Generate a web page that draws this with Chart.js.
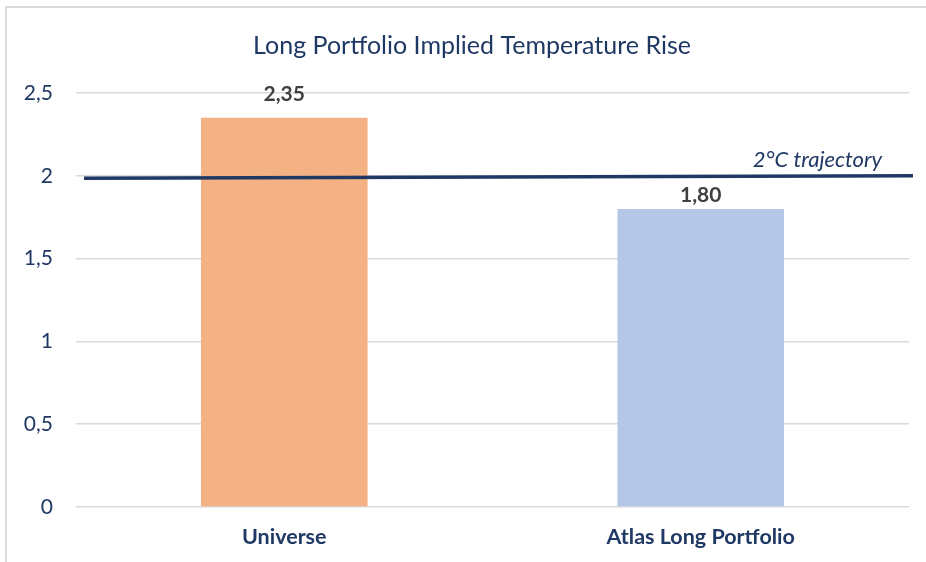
<!DOCTYPE html>
<html>
<head>
<meta charset="utf-8">
<script src="https://cdn.jsdelivr.net/npm/chart.js@4.4.1/dist/chart.umd.min.js"></script>
<style>
  body { margin: 0; background: #fff; }
  #wrap { position: relative; width: 926px; height: 562px; overflow: hidden; }
  #frame { position: absolute; left: 5px; top: 6px; width: 1000px; height: 700px;
           border-top: 2px solid #D9D9D9; border-left: 2px solid #D9D9D9; }
  canvas { position: absolute; left: 0; top: 0; }
</style>
</head>
<body>
<div id="wrap">
  <div id="frame"></div>
  <canvas id="chart" width="926" height="562"></canvas>
</div>
<script>
/** Data **/
const chart_title = "Long Portfolio Implied Temperature Rise";
const categories = ["Universe", "Atlas Long Portfolio"];
const temperature_rise = [2.35, 1.80];
const bar_colors = ["#F4B183", "#B4C7E7"];

// 2°C trajectory line, drawn slightly tilted as in the source
const trajectory_x = [0, 1];
const trajectory_y = [1.985, 2.0];
const trajectory_label = "2°C trajectory";

const y_ticks = [0, 0.5, 1, 1.5, 2, 2.5];

/** Colors / styles **/
const navy = "#1F3864";
const label_grey = "#404040";
const grid_grey = "#D9D9D9";
const font_family = "Lato, 'Open Sans', sans-serif";
const label_offsets = [24, 14]; // value label distance above each bar

function comma(v, digits) {
    return (digits === undefined ? String(v) : v.toFixed(digits)).replace(".", ",");
}

/** Plugins **/
// title is drawn by hand: the source centres it on the whole picture, not on the chart box
const title_plugin = {
    id: "centredTitle",
    beforeDraw(chart) {
        const ctx = chart.ctx;
        ctx.save();
        ctx.font = "25px " + font_family;
        ctx.fillStyle = navy;
        ctx.textAlign = "center";
        ctx.textBaseline = "middle";
        ctx.fillText(chart_title, 472, 46);
        ctx.restore();
    }
};

const value_labels = {
    id: "valueLabels",
    afterDatasetsDraw(chart) {
        const ctx = chart.ctx;
        const meta = chart.getDatasetMeta(0);
        ctx.save();
        ctx.font = "bold 21px " + font_family;
        ctx.fillStyle = label_grey;
        ctx.textAlign = "center";
        ctx.textBaseline = "middle";
        meta.data.forEach(function(bar, i) {
            ctx.fillText(comma(temperature_rise[i], 2), bar.x, bar.y - label_offsets[i]);
        });

        // trajectory label near the right end of the line
        const line = chart.getDatasetMeta(1).data;
        const last = line[line.length - 1];
        ctx.font = "italic 22px " + font_family;
        ctx.fillStyle = navy;
        ctx.textAlign = "right";
        ctx.fillText(trajectory_label, last.x - 31, last.y - 16);
        ctx.restore();
    }
};

new Chart(document.getElementById("chart"), {
    type: "bar",
    data: {
        labels: categories,
        datasets: [{
            type: "bar",
            data: temperature_rise,
            backgroundColor: bar_colors,
            barPercentage: 0.4,
            categoryPercentage: 1,
            grouped: false,
            order: 1
        }, {
            type: "line",
            xAxisID: "x2",
            data: trajectory_x.map(function(x, i) { return {x: x, y: trajectory_y[i]}; }),
            borderColor: navy,
            borderWidth: 3.5,
            pointRadius: 0,
            clip: false,
            order: 0
        }]
    },
    plugins: [title_plugin, value_labels],
    options: {
        responsive: false,
        animation: false,
        layout: { padding: { left: 0, right: 17, top: 93, bottom: 0 } },
        plugins: {
            legend: { display: false },
            tooltip: { enabled: false },
            title: { display: false }
        },
        scales: {
            x: {
                grid: { display: false, drawTicks: false },
                border: { display: false },
                ticks: {
                    color: navy,
                    font: { family: font_family, size: 21.5, weight: "bold" },
                    padding: 17
                },
                afterFit: function(scale) { scale.height = 55; }
            },
            x2: {
                type: "linear",
                display: false,
                offset: false,
                min: -0.00965,
                max: 0.99518
            },
            y: {
                min: 0,
                max: 2.5,
                afterBuildTicks: function(scale) {
                    scale.ticks = y_ticks.map(function(v) { return {value: v}; });
                },
                grid: { color: grid_grey, lineWidth: 1.5, drawTicks: false },
                border: { display: false },
                ticks: {
                    color: navy,
                    font: { family: font_family, size: 21 },
                    padding: 23,
                    callback: function(v) { return comma(v); }
                },
                afterFit: function(scale) { scale.width = 76; }
            }
        }
    }
});
</script>
</body>
</html>
